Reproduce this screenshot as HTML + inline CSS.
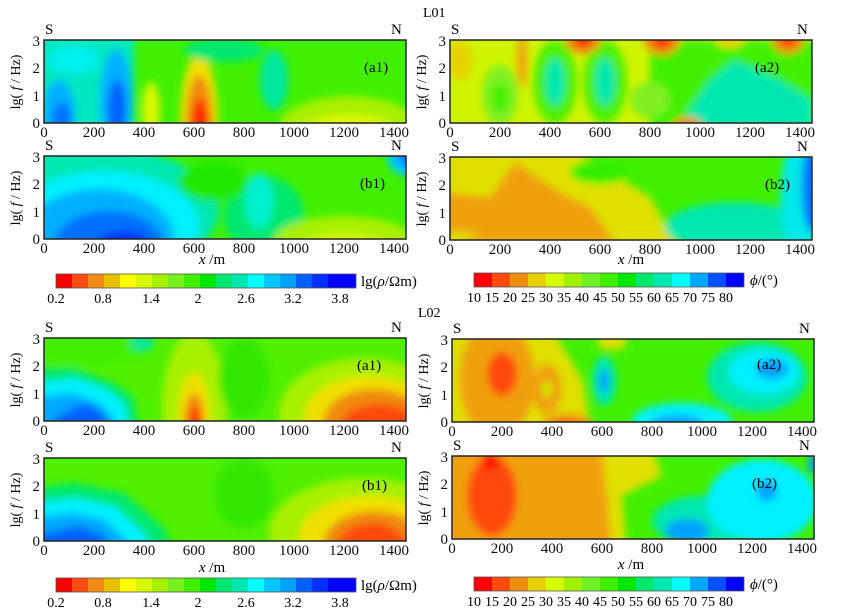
<!DOCTYPE html>
<html><head><meta charset="utf-8"><style>
body{margin:0;background:#fff}
svg{display:block;font-family:"Liberation Serif",serif}
</style></head><body>
<svg width="855" height="610" viewBox="0 0 855 610" xmlns="http://www.w3.org/2000/svg">
<defs>
<filter id="bl" x="-20%" y="-20%" width="140%" height="140%"><feGaussianBlur stdDeviation="4"/></filter>
<clipPath id="cp"><rect width="362" height="83"/></clipPath>
<g id="ax">
<rect width="362" height="83" fill="none" stroke="#222" stroke-width="1.5"/>
<g font-size="15" text-anchor="middle" fill="#111">
<text x="0" y="97">0</text><text x="50" y="97">200</text><text x="100" y="97">400</text><text x="150" y="97">600</text><text x="200" y="97">800</text><text x="250" y="97">1000</text><text x="300" y="97">1200</text><text x="350" y="97">1400</text>
</g>
<g font-size="15" text-anchor="end" fill="#111">
<text x="-4" y="88">0</text><text x="-4" y="61">1</text><text x="-4" y="33">2</text><text x="-4" y="6">3</text>
</g>
<text x="-24" y="42" font-size="14" transform="rotate(-90 -24 42)" text-anchor="middle">lg( <tspan font-style="italic">f</tspan> / Hz)</text>
<text x="1" y="-6" font-size="15">S</text><text x="347" y="-6" font-size="15">N</text>
</g>
</defs>

<!-- L01 a1 -->
<g transform="translate(44,40)">
<g clip-path="url(#cp)"><rect width="362" height="83" fill="#40f000"/>
<g filter="url(#bl)">
<rect x="-10" y="-10" width="100" height="110" fill="#00e8c0"/>
<ellipse cx="30" cy="20" rx="25" ry="14" fill="#00f0f0"/>
<ellipse cx="15" cy="75" rx="16" ry="35" fill="#00b0ff"/>
<ellipse cx="18" cy="80" rx="9" ry="18" fill="#0070ff"/>
<ellipse cx="72" cy="60" rx="16" ry="50" fill="#00b0ff"/>
<ellipse cx="73" cy="70" rx="9" ry="30" fill="#0060ff"/>
<ellipse cx="107" cy="70" rx="9" ry="28" fill="#d8f800"/>
<ellipse cx="155" cy="83" rx="19" ry="70" fill="#f0e000"/>
<ellipse cx="155" cy="85" rx="13" ry="50" fill="#f08a10"/>
<ellipse cx="156" cy="88" rx="8" ry="30" fill="#ff2000"/>
<ellipse cx="230" cy="40" rx="14" ry="30" fill="#00e8a0"/>
<ellipse cx="305" cy="88" rx="70" ry="32" fill="#a8f000"/>
<ellipse cx="305" cy="90" rx="45" ry="15" fill="#e0f800"/>
<ellipse cx="180" cy="10" rx="40" ry="12" fill="#00e870"/>
</g></g>
<use href="#ax"/><text x="320" y="32" font-size="15">(a1)</text></g>

<!-- L01 a2 -->
<g transform="translate(450,40)">
<g clip-path="url(#cp)"><rect width="362" height="83" fill="#d0f400"/>
<g filter="url(#bl)">
<ellipse cx="50" cy="55" rx="18" ry="30" fill="#80f020"/>
<ellipse cx="50" cy="58" rx="8" ry="14" fill="#40f000"/>
<ellipse cx="105" cy="42" rx="22" ry="42" fill="#50f000"/>
<ellipse cx="105" cy="42" rx="10" ry="24" fill="#00e8b0"/>
<ellipse cx="155" cy="42" rx="22" ry="42" fill="#50f000"/>
<ellipse cx="155" cy="42" rx="10" ry="24" fill="#00e8b0"/>
<rect x="200" y="0" width="170" height="90" fill="#40f000"/>
<ellipse cx="200" cy="60" rx="20" ry="18" fill="#80f020"/>
<polygon points="230,83 260,40 285,20 330,40 362,60 362,90 230,90" fill="#00e8b0"/>
<ellipse cx="72" cy="20" rx="5" ry="28" fill="#f0a010"/>
<ellipse cx="10" cy="20" rx="12" ry="20" fill="#e8d000"/>
<ellipse cx="133" cy="0" rx="18" ry="14" fill="#f08a10"/>
<ellipse cx="133" cy="0" rx="9" ry="7" fill="#ff3000"/>
<ellipse cx="212" cy="0" rx="18" ry="15" fill="#f08a10"/>
<ellipse cx="212" cy="0" rx="9" ry="8" fill="#ff3000"/>
<ellipse cx="338" cy="0" rx="16" ry="14" fill="#f08a10"/>
<ellipse cx="338" cy="0" rx="7" ry="7" fill="#ff3000"/>
<ellipse cx="237" cy="85" rx="15" ry="8" fill="#f08a10"/>
<ellipse cx="280" cy="2" rx="14" ry="6" fill="#e8d000"/>
</g></g>
<use href="#ax"/><text x="305" y="32" font-size="15">(a2)</text></g>

<!-- L01 b1 -->
<g transform="translate(44,156)">
<g clip-path="url(#cp)"><rect width="362" height="83" fill="#40f000"/>
<g filter="url(#bl)">
<ellipse cx="220" cy="60" rx="40" ry="40" fill="#00e870"/>
<ellipse cx="50" cy="55" rx="125" ry="65" fill="#00e8b0"/>
<ellipse cx="60" cy="70" rx="95" ry="55" fill="#00f0ff"/>
<ellipse cx="55" cy="83" rx="75" ry="50" fill="#00b0ff"/>
<ellipse cx="65" cy="90" rx="55" ry="35" fill="#0070ff"/>
<ellipse cx="80" cy="95" rx="30" ry="20" fill="#0030ff"/>
<ellipse cx="170" cy="25" rx="35" ry="20" fill="#20e800"/>
<ellipse cx="215" cy="45" rx="14" ry="28" fill="#00f0d0"/>
<ellipse cx="300" cy="85" rx="70" ry="25" fill="#a8f000"/>
<ellipse cx="300" cy="90" rx="40" ry="12" fill="#d8f800"/>
<ellipse cx="365" cy="0" rx="22" ry="20" fill="#00c8ff"/>
<ellipse cx="365" cy="0" rx="10" ry="10" fill="#0060ff"/>
</g></g>
<use href="#ax"/><text x="316" y="32" font-size="15">(b1)</text></g>

<!-- L01 b2 -->
<g transform="translate(450,157)">
<g clip-path="url(#cp)"><rect width="362" height="83" fill="#40f000"/>
<g filter="url(#bl)">
<polygon points="-10,-10 120,-10 200,40 230,95 -10,95" fill="#e0e000"/>
<polygon points="-10,35 40,40 65,5 110,35 140,50 165,85 -10,85 -10,70" fill="#f0a010"/>
<polygon points="-10,75 30,75 -10,95" fill="#e0e000"/>
<ellipse cx="285" cy="70" rx="70" ry="25" fill="#00e8b0"/>
<ellipse cx="350" cy="40" rx="20" ry="60" fill="#00e8e8"/>
<ellipse cx="362" cy="30" rx="10" ry="45" fill="#0070ff"/>
<ellipse cx="150" cy="15" rx="30" ry="12" fill="#30f000"/>
</g></g>
<use href="#ax"/><text x="315" y="32" font-size="15">(b2)</text></g>

<text x="212" y="264" font-size="15" text-anchor="middle"><tspan font-style="italic">x</tspan> /m</text>
<text x="631" y="264" font-size="15" text-anchor="middle"><tspan font-style="italic">x</tspan> /m</text>
<text x="423" y="17" font-size="14">L01</text>
<text x="418" y="317" font-size="14">L02</text>

<!-- rho colorbar L01 -->
<g id="cbr" transform="translate(56,274)">
<rect x="0" width="16" height="14" fill="#ff0000"/><rect x="16" width="16" height="14" fill="#ff4a10"/><rect x="32" width="16" height="14" fill="#f08a10"/><rect x="48" width="16" height="14" fill="#e8c000"/><rect x="64" width="16" height="14" fill="#ffff00"/><rect x="80" width="16" height="14" fill="#d8f800"/><rect x="96" width="16" height="14" fill="#a8f000"/><rect x="112" width="16" height="14" fill="#78f020"/><rect x="128" width="16" height="14" fill="#40f000"/><rect x="144" width="16" height="14" fill="#00e800"/><rect x="160" width="16" height="14" fill="#00e870"/><rect x="176" width="16" height="14" fill="#00e8b0"/><rect x="192" width="16" height="14" fill="#00ffff"/><rect x="208" width="16" height="14" fill="#00c8ff"/><rect x="224" width="16" height="14" fill="#00a0ff"/><rect x="240" width="16" height="14" fill="#0060ff"/><rect x="256" width="16" height="14" fill="#0030ff"/><rect x="272" width="28" height="14" fill="#0000ff"/>
<rect width="300" height="14" fill="none" stroke="#555" stroke-width="0.8"/>
<g font-size="14" text-anchor="middle"><text x="0" y="29">0.2</text><text x="47" y="29">0.8</text><text x="95" y="29">1.4</text><text x="142" y="29">2</text><text x="190" y="29">2.6</text><text x="237" y="29">3.2</text><text x="284" y="29">3.8</text></g>
<text x="305" y="12" font-size="15">lg(<tspan font-style="italic">ρ</tspan>/Ωm)</text>
</g>
<use href="#cbr" transform="translate(0,304)"/>

<!-- phase colorbar -->
<g id="cbp" transform="translate(474,273)">
<rect x="0" width="18" height="14" fill="#ff0000"/><rect x="18" width="18" height="14" fill="#ff4a10"/><rect x="36" width="18" height="14" fill="#f09010"/><rect x="54" width="18" height="14" fill="#e8d000"/><rect x="72" width="18" height="14" fill="#d8ff00"/><rect x="90" width="18" height="14" fill="#a0f000"/><rect x="108" width="18" height="14" fill="#70f020"/><rect x="126" width="18" height="14" fill="#40f000"/><rect x="144" width="18" height="14" fill="#00e800"/><rect x="162" width="18" height="14" fill="#00e870"/><rect x="180" width="18" height="14" fill="#00e8b0"/><rect x="198" width="18" height="14" fill="#00ffff"/><rect x="216" width="18" height="14" fill="#00a8ff"/><rect x="234" width="18" height="14" fill="#0050ff"/><rect x="252" width="18" height="14" fill="#0000ff"/>
<rect width="270" height="14" fill="none" stroke="#555" stroke-width="0.8"/>
<g font-size="14" text-anchor="middle"><text x="0" y="29">10</text><text x="18" y="29">15</text><text x="36" y="29">20</text><text x="54" y="29">25</text><text x="72" y="29">30</text><text x="90" y="29">35</text><text x="108" y="29">40</text><text x="126" y="29">45</text><text x="144" y="29">50</text><text x="162" y="29">55</text><text x="180" y="29">60</text><text x="198" y="29">65</text><text x="216" y="29">70</text><text x="234" y="29">75</text><text x="252" y="29">80</text></g>
<text x="276" y="12" font-size="15"><tspan font-style="italic">ϕ</tspan>/(°)</text>
</g>
<use href="#cbp" transform="translate(0,304)"/>

<!-- L02 a1 -->
<g transform="translate(44,338)">
<g clip-path="url(#cp)"><rect width="362" height="83" fill="#50f000"/>
<g filter="url(#bl)">
<ellipse cx="40" cy="10" rx="60" ry="18" fill="#40f000"/>
<polygon points="-10,30 30,30 70,45 90,60 95,95 -10,95" fill="#00e870"/>
<polygon points="-10,45 30,40 60,50 80,65 85,95 -10,95" fill="#00f0ff"/>
<polygon points="-10,60 30,55 55,65 70,80 75,95 -10,95" fill="#00a8ff"/>
<polygon points="10,80 40,65 60,75 65,95 10,95" fill="#0060ff"/>
<ellipse cx="150" cy="70" rx="32" ry="75" fill="#a8f000"/>
<ellipse cx="150" cy="80" rx="16" ry="45" fill="#f0e000"/>
<ellipse cx="150" cy="85" rx="10" ry="30" fill="#f08a10"/>
<ellipse cx="151" cy="88" rx="5" ry="20" fill="#ff1000"/>
<ellipse cx="200" cy="40" rx="25" ry="40" fill="#30e800"/>
<ellipse cx="98" cy="5" rx="12" ry="8" fill="#00e8a0"/>
<ellipse cx="320" cy="75" rx="85" ry="55" fill="#a8f000"/>
<ellipse cx="325" cy="80" rx="65" ry="42" fill="#f0e000"/>
<ellipse cx="330" cy="83" rx="50" ry="32" fill="#f08a10"/>
<ellipse cx="335" cy="88" rx="38" ry="22" fill="#ff4a10"/>
</g></g>
<use href="#ax"/><text x="313" y="32" font-size="15">(a1)</text></g>

<!-- L02 a2 -->
<g transform="translate(452,339)">
<g clip-path="url(#cp)"><rect width="362" height="83" fill="#40f000"/>
<g filter="url(#bl)">
<polygon points="-10,-10 100,-10 130,40 140,95 -10,95" fill="#e0e000"/>
<ellipse cx="45" cy="40" rx="38" ry="60" fill="#f0a010"/>
<ellipse cx="50" cy="35" rx="15" ry="22" fill="#ff4a10"/>
<ellipse cx="95" cy="50" rx="15" ry="25" fill="#f0a010"/>
<ellipse cx="95" cy="50" rx="5" ry="8" fill="#c8f000"/>
<ellipse cx="115" cy="85" rx="25" ry="10" fill="#f08a10"/>
<ellipse cx="115" cy="88" rx="10" ry="6" fill="#ff2000"/>
<ellipse cx="160" cy="3" rx="15" ry="8" fill="#e0e000"/>
<ellipse cx="152" cy="42" rx="12" ry="25" fill="#00e8b0"/>
<ellipse cx="152" cy="42" rx="5" ry="12" fill="#00a0ff"/>
<ellipse cx="230" cy="82" rx="50" ry="18" fill="#00f0ff"/>
<ellipse cx="225" cy="88" rx="28" ry="12" fill="#00a0ff"/>
<ellipse cx="305" cy="38" rx="50" ry="35" fill="#00e8b0"/>
<ellipse cx="312" cy="33" rx="35" ry="22" fill="#00f0ff"/>
<ellipse cx="320" cy="30" rx="16" ry="10" fill="#00a0ff"/>
</g></g>
<use href="#ax"/><text x="305" y="30" font-size="15">(a2)</text></g>

<!-- L02 b1 -->
<g transform="translate(44,458)">
<g clip-path="url(#cp)"><rect width="362" height="83" fill="#50f000"/>
<g filter="url(#bl)">
<ellipse cx="200" cy="35" rx="30" ry="35" fill="#30e800"/>
<polygon points="-10,30 30,25 80,35 120,70 130,95 -10,95" fill="#00e870"/>
<polygon points="-10,45 30,40 70,48 100,75 110,95 -10,95" fill="#00f0ff"/>
<polygon points="-10,60 30,55 60,62 85,85 90,95 -10,95" fill="#00a8ff"/>
<polygon points="-10,78 35,68 60,78 70,95 -10,95" fill="#0060ff"/>
<ellipse cx="320" cy="75" rx="95" ry="55" fill="#a8f000"/>
<ellipse cx="325" cy="80" rx="70" ry="42" fill="#f0e000"/>
<ellipse cx="330" cy="85" rx="50" ry="32" fill="#f08a10"/>
<ellipse cx="328" cy="90" rx="35" ry="25" fill="#ff4a10"/>
</g></g>
<use href="#ax"/><text x="318" y="32" font-size="15">(b1)</text></g>

<!-- L02 b2 -->
<g transform="translate(452,456)">
<g clip-path="url(#cp)"><rect width="362" height="83" fill="#40f000"/>
<g filter="url(#bl)">
<polygon points="-10,-10 200,-10 210,20 170,40 175,95 -10,95" fill="#e0e000"/>
<polygon points="-10,-10 150,-10 155,40 160,95 -10,95" fill="#f0a010"/>
<ellipse cx="40" cy="40" rx="25" ry="40" fill="#ff4a10"/>
<ellipse cx="38" cy="5" rx="8" ry="10" fill="#ff1000"/>
<ellipse cx="250" cy="65" rx="50" ry="25" fill="#00e8b0"/>
<ellipse cx="310" cy="45" rx="55" ry="42" fill="#00f0ff"/>
<ellipse cx="235" cy="75" rx="22" ry="12" fill="#00a0ff"/>
<ellipse cx="315" cy="35" rx="10" ry="10" fill="#00a0ff"/>
<ellipse cx="362" cy="8" rx="6" ry="10" fill="#00a0ff"/>
</g></g>
<use href="#ax"/><text x="300" y="32" font-size="15">(b2)</text></g>

<text x="212" y="572" font-size="15" text-anchor="middle"><tspan font-style="italic">x</tspan> /m</text>
<text x="631" y="569" font-size="15" text-anchor="middle"><tspan font-style="italic">x</tspan> /m</text>
</svg>
</body></html>
